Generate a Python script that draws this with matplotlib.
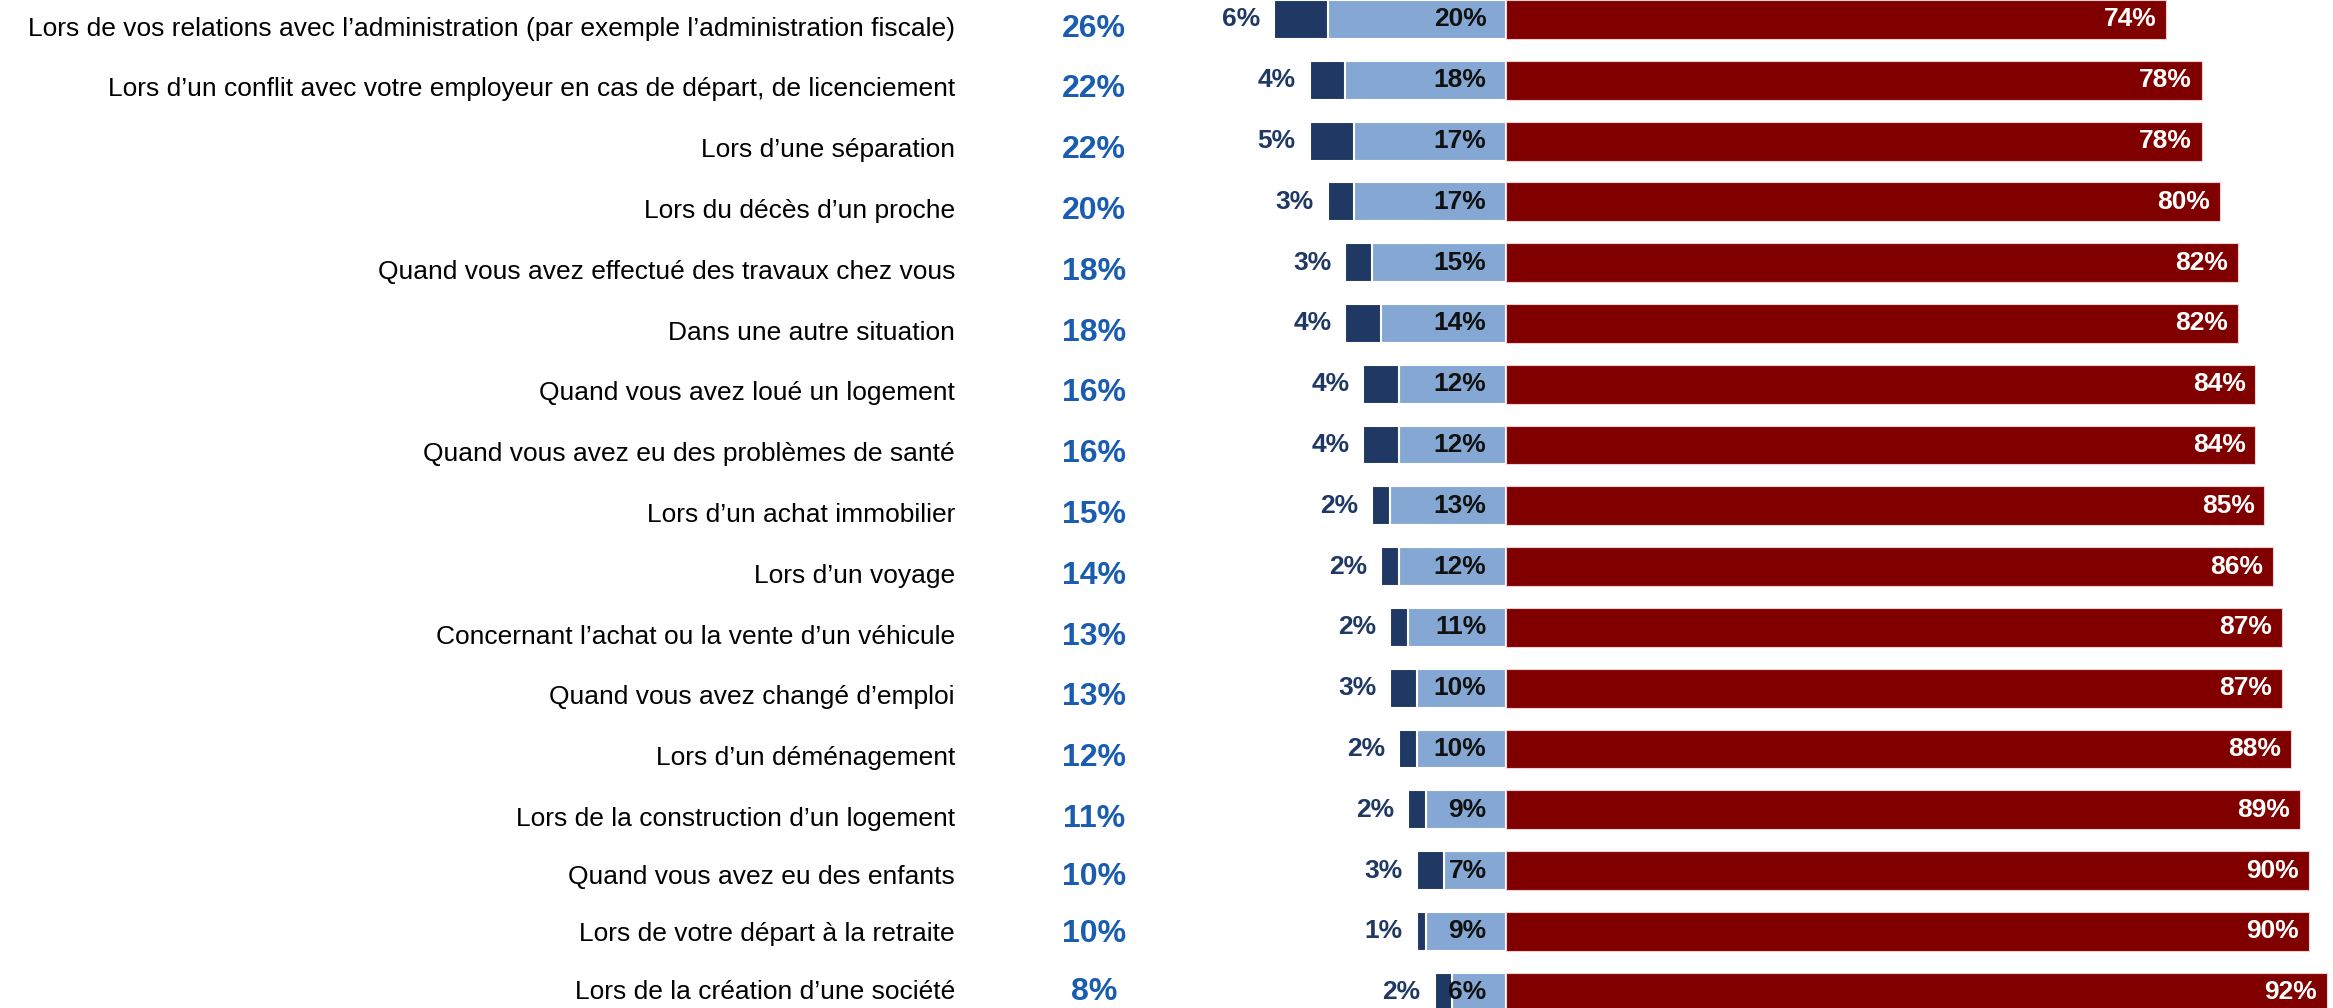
import numpy as np
import matplotlib
matplotlib.use('Agg')
import matplotlib.pyplot as plt

plt.rcParams['font.family'] = ['Liberation Sans Narrow', 'Liberation Sans', 'DejaVu Sans']

# ─── Data ───
categories = [
    "Lors de vos relations avec l\u2019administration (par exemple l\u2019administration fiscale)",
    "Lors d\u2019un conflit avec votre employeur en cas de d\u00e9part, de licenciement",
    "Lors d\u2019une s\u00e9paration",
    "Lors du d\u00e9c\u00e8s d\u2019un proche",
    "Quand vous avez effectu\u00e9 des travaux chez vous",
    "Dans une autre situation",
    "Quand vous avez lou\u00e9 un logement",
    "Quand vous avez eu des probl\u00e8mes de sant\u00e9",
    "Lors d\u2019un achat immobilier",
    "Lors d\u2019un voyage",
    "Concernant l\u2019achat ou la vente d\u2019un v\u00e9hicule",
    "Quand vous avez chang\u00e9 d\u2019emploi",
    "Lors d\u2019un d\u00e9m\u00e9nagement",
    "Lors de la construction d\u2019un logement",
    "Quand vous avez eu des enfants",
    "Lors de votre d\u00e9part \u00e0 la retraite",
    "Lors de la cr\u00e9ation d\u2019une soci\u00e9t\u00e9",
]
dark = [6, 4, 5, 3, 3, 4, 4, 4, 2, 2, 2, 3, 2, 2, 3, 1, 2]
light = [20, 18, 17, 17, 15, 14, 12, 12, 13, 12, 11, 10, 10, 9, 7, 9, 6]
red = [74, 78, 78, 80, 82, 82, 84, 84, 85, 86, 87, 87, 88, 89, 90, 90, 92]
totals = [26, 22, 22, 20, 18, 18, 16, 16, 15, 14, 13, 13, 12, 11, 10, 10, 8]

C_DARK = '#1F3864'
C_LIGHT = '#84A8D3'
C_RED = '#800000'
C_TOTAL = '#1A5DB0'

dark = np.array(dark); light = np.array(light); red = np.array(red)
y = np.arange(len(categories))

fig = plt.figure(figsize=(23.33, 10.08), dpi=100)
ax = fig.add_axes([0, 0, 1, 1])
ax.set_xlim(-168.8, 92.7)
ax.set_ylim(16.26, -0.32)
ax.axis('off')

h = 0.64
ax.barh(y, -light, height=h, color=C_LIGHT, edgecolor='white', lw=1.5)
ax.barh(y, -dark, left=-light, height=h, color=C_DARK, edgecolor='white', lw=1.5)
ax.barh(y, red, height=h, color=C_RED, edgecolor='#f0d0d0', lw=0.8)

tr = ax.get_yaxis_transform()  # x in axes fraction, y in data
n = len(categories)
for i in range(n):
    # left text block sits a bit lower than the bars, except near the bottom edge
    dy = min(0.15, (n - 1 - i) * 0.05)
    ax.text(0.4093, y[i] + dy, categories[i], transform=tr, ha='right', va='center',
            fontsize=19, color='black')
    ax.text(0.469, y[i] + dy, f"{totals[i]}%", transform=tr, ha='center', va='center',
            fontsize=23, color=C_TOTAL, fontweight='bold')
    # dark segment label (outside, left)
    ax.annotate(f"{dark[i]}%", (-(light[i] + dark[i]), y[i]), xytext=(-10, 0),
                textcoords='offset points', ha='right', va='center',
                fontsize=19, fontweight='bold', color=C_DARK)
    # light segment label (inside, near zero)
    ax.annotate(f"{light[i]}%", (0, y[i]), xytext=(-14, 0),
                textcoords='offset points', ha='right', va='center',
                fontsize=19, fontweight='bold', color='#111111')
    # red segment label (inside, near end)
    ax.annotate(f"{red[i]}%", (red[i], y[i]), xytext=(-7, 0),
                textcoords='offset points', ha='right', va='center',
                fontsize=19, fontweight='bold', color='white')

fig.savefig('out.png', dpi=100)
